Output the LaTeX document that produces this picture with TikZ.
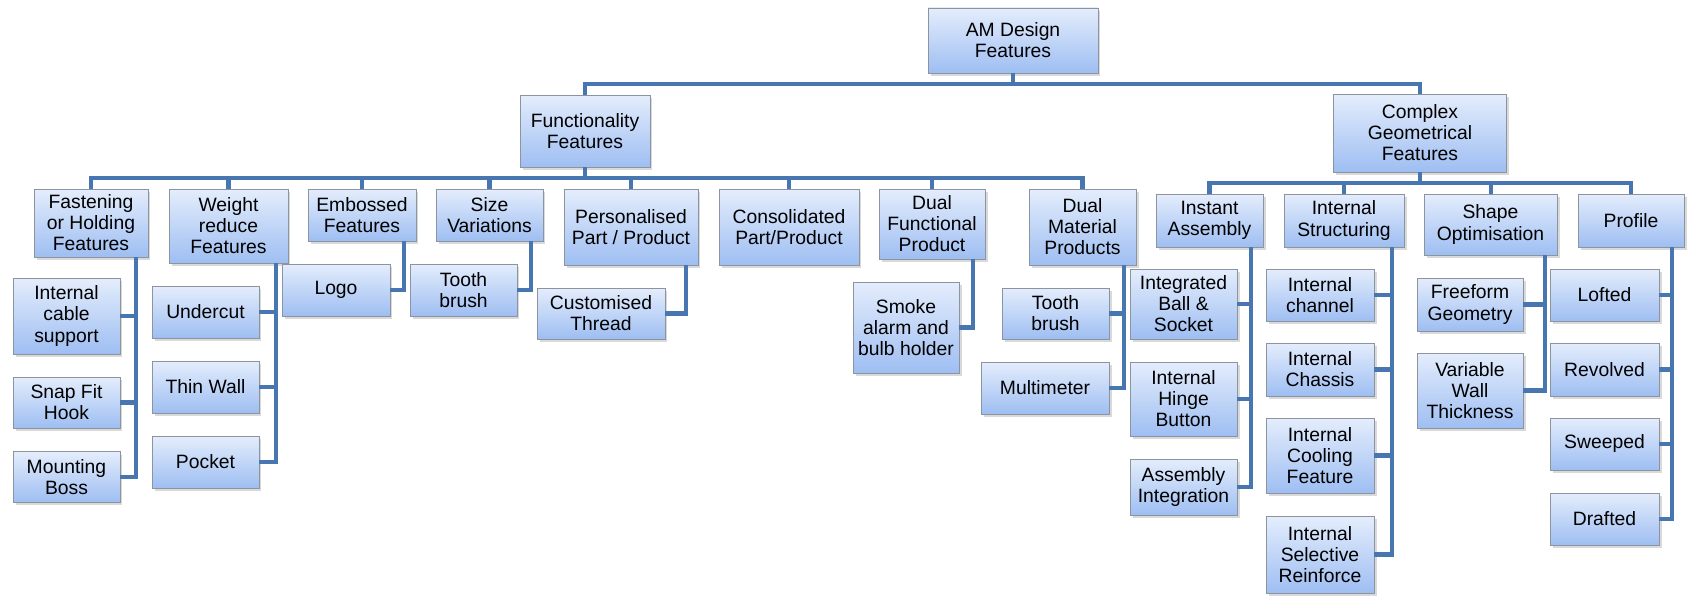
\documentclass[tikz,border=0pt]{standalone}
\usepackage{fontspec}
\setmainfont{Liberation Sans}
\usepackage{tikz}
\usetikzlibrary{shadows}
\definecolor{lineaazul}{RGB}{72,118,176}
\definecolor{cajaclara}{RGB}{228,237,252}
\definecolor{cajaoscura}{RGB}{158,190,242}
\definecolor{bordegris}{RGB}{140,148,160}
\tikzset{
  feat/.style 2 args={draw=bordegris,top color=cajaclara,bottom color=cajaoscura,align=center,inner sep=1pt,
    minimum width=#1,minimum height=#2,font=\fontsize{11}{12}\selectfont,
    drop shadow={shadow xshift=0.05cm,shadow yshift=-0.06cm,opacity=0.3}},
  link/.style={draw=lineaazul,line width=2.3pt}
}

\begin{document}
\begin{tikzpicture}[x=0.02cm,y=-0.02cm]
\useasboundingbox (0,0) rectangle (1693,597);
% top levels
\node[feat={3.4cm}{1.3cm}] (root) at (1013,40.5) {AM Design\\Features};
\node[feat={2.6cm}{1.44cm}] (func) at (585,131) {Functionality\\Features};
\node[feat={3.46cm}{1.56cm}] (cplx) at (1420,133) {Complex\\Geometrical\\Features};
% functionality features
\node[feat={2.28cm}{1.36cm}] (fast) at (91,223) {Fastening\\or Holding\\Features};
\node[feat={2.38cm}{1.48cm}] (weight) at (228.5,226) {Weight\\reduce\\Features};
\node[feat={2.16cm}{1.04cm}] (emb) at (362,215) {Embossed\\Features};
\node[feat={2.14cm}{1.04cm}] (size) at (489.5,215) {Size\\Variations};
\node[feat={2.68cm}{1.52cm}] (pers) at (631,227) {Personalised\\Part / Product};
\node[feat={2.8cm}{1.52cm}] (cons) at (789,227) {Consolidated\\Part/Product};
\node[feat={2.12cm}{1.4cm}] (dfun) at (932,224) {Dual\\Functional\\Product};
\node[feat={2.14cm}{1.52cm}] (dmat) at (1082.5,227) {Dual\\Material\\Products};
% complex geometrical features
\node[feat={2.14cm}{1.06cm}] (inst) at (1209.5,220.5) {Instant\\Assembly};
\node[feat={2.4cm}{1.06cm}] (istr) at (1344,220.5) {Internal\\Structuring};
\node[feat={2.66cm}{1.22cm}] (shape) at (1490.5,224.5) {Shape\\Optimisation};
\node[feat={2.12cm}{1.06cm}] (prof) at (1631,220.5) {Profile};
% leaves
\node[feat={2.14cm}{1.52cm}] (cable) at (66.5,316) {Internal\\cable\\support};
\node[feat={2.14cm}{1.02cm}] (snap) at (66.5,402.5) {Snap Fit\\Hook};
\node[feat={2.14cm}{1.02cm}] (boss) at (66.5,477) {Mounting\\Boss};
\node[feat={2.14cm}{1.04cm}] (undercut) at (205.5,312) {Undercut};
\node[feat={2.14cm}{1.04cm}] (thin) at (205.5,387) {Thin Wall};
\node[feat={2.14cm}{1.04cm}] (pocket) at (205.5,462) {Pocket};
\node[feat={2.16cm}{1.04cm}] (logo) at (336,290) {Logo};
\node[feat={2.14cm}{1.04cm}] (toothsz) at (463.5,290) {Tooth\\brush};
\node[feat={2.56cm}{1.02cm}] (thread) at (601,313.5) {Customised\\Thread};
\node[feat={2.12cm}{1.82cm}] (smoke) at (906,327.5) {Smoke\\alarm and\\bulb holder};
\node[feat={2.14cm}{1.02cm}] (toothdm) at (1055.5,313.5) {Tooth\\brush};
\node[feat={2.56cm}{1.04cm}] (multi) at (1045,388) {Multimeter};
\node[feat={2.14cm}{1.4cm}] (ball) at (1183.5,304) {Integrated\\Ball \&\\Socket};
\node[feat={2.14cm}{1.48cm}] (hinge) at (1183.5,399) {Internal\\Hinge\\Button};
\node[feat={2.14cm}{1.12cm}] (asmint) at (1183.5,487) {Assembly\\Integration};
\node[feat={2.16cm}{1.04cm}] (chan) at (1320,295) {Internal\\channel};
\node[feat={2.16cm}{1.06cm}] (chas) at (1320,369.5) {Internal\\Chassis};
\node[feat={2.16cm}{1.5cm}] (cool) at (1320,455.5) {Internal\\Cooling\\Feature};
\node[feat={2.16cm}{1.54cm}] (reinf) at (1320,554.5) {Internal\\Selective\\Reinforce};
\node[feat={2.12cm}{1.06cm}] (free) at (1470,304.5) {Freeform\\Geometry};
\node[feat={2.12cm}{1.5cm}] (varw) at (1470,390.5) {Variable\\Wall\\Thickness};
\node[feat={2.18cm}{1.04cm}] (loft) at (1604.5,295) {Lofted};
\node[feat={2.18cm}{1.06cm}] (revo) at (1604.5,369.5) {Revolved};
\node[feat={2.18cm}{1.04cm}] (sweep) at (1604.5,444) {Sweeped};
\node[feat={2.18cm}{1.04cm}] (draft) at (1604.5,519) {Drafted};
% buses
\coordinate (topbus) at ([yshift=0.22cm]func.north);
\draw[link] (root.south) -- (root.south |- topbus);
\draw[link] (func.north) -- (topbus) -| (cplx.north);
\coordinate (fbus) at ([yshift=-0.22cm]func.south);
\draw[link] (func.south) -- (fbus);
\foreach \n in {fast,weight,emb,size,pers,cons,dfun,dmat}
  \draw[link] (\n.north) |- (fbus);
\coordinate (cbus) at ([yshift=-0.22cm]cplx.south);
\draw[link] (cplx.south) -- (cbus);
\foreach \n in {inst,istr,shape,prof}
  \draw[link] (\n.north) |- (cbus);
% leaf connectors
\foreach \p/\c in {fast/cable,fast/snap,fast/boss,weight/undercut,weight/thin,weight/pocket,
  emb/logo,size/toothsz,pers/thread,dfun/smoke,dmat/toothdm,dmat/multi,
  inst/ball,inst/hinge,inst/asmint,istr/chan,istr/chas,istr/cool,istr/reinf,
  shape/free,shape/varw,prof/loft,prof/revo,prof/sweep,prof/draft}
  \draw[link] ([xshift=-0.24cm]\p.south east) |- (\c.east);
\end{tikzpicture}
\end{document}
